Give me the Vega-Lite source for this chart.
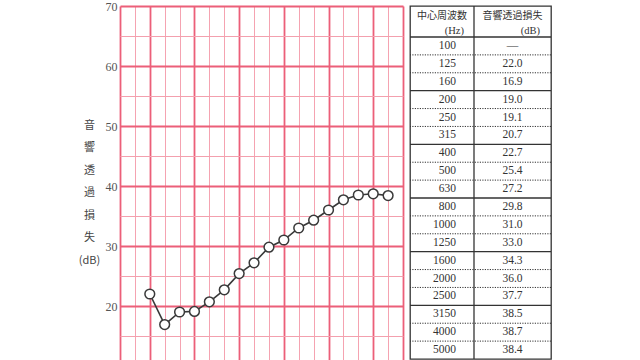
{
  "$schema": "https://vega.github.io/schema/vega-lite/v6.json",
  "background": "white",
  "padding": {"left": 78, "top": 0, "right": 5, "bottom": 0},
  "bounds": "flush",
  "spacing": 7,
  "config": {"view": {"stroke": null}},
  "datasets": {
    "bands": [
      {"freq": "100", "tl": null, "tl_label": "—"},
      {"freq": "125", "tl": 22.0, "tl_label": "22.0"},
      {"freq": "160", "tl": 16.9, "tl_label": "16.9"},
      {"freq": "200", "tl": 19.0, "tl_label": "19.0"},
      {"freq": "250", "tl": 19.1, "tl_label": "19.1"},
      {"freq": "315", "tl": 20.7, "tl_label": "20.7"},
      {"freq": "400", "tl": 22.7, "tl_label": "22.7"},
      {"freq": "500", "tl": 25.4, "tl_label": "25.4"},
      {"freq": "630", "tl": 27.2, "tl_label": "27.2"},
      {"freq": "800", "tl": 29.8, "tl_label": "29.8"},
      {"freq": "1000", "tl": 31.0, "tl_label": "31.0"},
      {"freq": "1250", "tl": 33.0, "tl_label": "33.0"},
      {"freq": "1600", "tl": 34.3, "tl_label": "34.3"},
      {"freq": "2000", "tl": 36.0, "tl_label": "36.0"},
      {"freq": "2500", "tl": 37.7, "tl_label": "37.7"},
      {"freq": "3150", "tl": 38.5, "tl_label": "38.5"},
      {"freq": "4000", "tl": 38.7, "tl_label": "38.7"},
      {"freq": "5000", "tl": 38.4, "tl_label": "38.4"}
    ],
    "head_hz": [
      {"line": "1", "text": "中心周波数"},
      {"line": "2", "text": "(Hz)"}
    ],
    "head_db": [
      {"line": "1", "text": "音響透過損失"},
      {"line": "2", "text": "(dB)"}
    ]
  },
  "hconcat": [
    {
      "width": 283,
      "height": 354,
      "data": {"name": "bands"},
      "encoding": {
        "x": {
          "field": "freq",
          "type": "ordinal",
          "scale": {
            "type": "point",
            "padding": 0,
            "domain": ["80", "100", "125", "160", "200", "250", "315", "400", "500", "630", "800", "1000", "1250", "1600", "2000", "2500", "3150", "4000", "5000", "6300"]
          },
          "axis": {
            "title": null,
            "labels": false,
            "ticks": false,
            "domain": false,
            "grid": true,
            "gridColor": {"condition": {"test": "indexof(['80','125','250','500','1000','2000','4000','6300'], datum.value) >= 0", "value": "#ec5f79"}, "value": "#f5a3b1"},
            "gridWidth": {"condition": {"test": "indexof(['80','125','250','500','1000','2000','4000','6300'], datum.value) >= 0", "value": 1.8}, "value": 1}
          }
        },
        "y": {
          "field": "tl",
          "type": "quantitative",
          "scale": {"domain": [11, 70], "nice": false, "zero": false},
          "axis": {
            "values": [15, 20, 25, 30, 35, 40, 45, 50, 55, 60, 65, 70],
            "labelExpr": "datum.value % 10 === 0 ? datum.label : ''",
            "ticks": false,
            "domain": false,
            "grid": true,
            "gridColor": {"condition": {"test": "datum.value % 10 === 0", "value": "#ec5f79"}, "value": "#f3a0ae"},
            "gridWidth": {"condition": {"test": "datum.value % 10 === 0", "value": 1.8}, "value": 1.1},
            "labelFont": "Liberation Serif",
            "labelFontSize": 12,
            "labelColor": "#555555",
            "labelPadding": 3,
            "title": ["音", "響", "透", "過", "損", "失", "(dB)"],
            "titleAngle": 0,
            "titleFont": "Noto Sans CJK JP",
            "titleFontSize": 11,
            "titleFontWeight": "normal",
            "titleColor": "#444444",
            "titleLineHeight": 22.5,
            "titleAlign": "center",
            "titleBaseline": "top",
            "titleX": -31,
            "titleY": 113
          }
        }
      },
      "layer": [
        {"mark": {"type": "line", "color": "#3a3a3a", "strokeWidth": 1.6}},
        {"mark": {"type": "point", "filled": true, "fill": "white", "stroke": "#3a3a3a", "strokeWidth": 1.5, "size": 95, "opacity": 1}}
      ]
    },
    {
      "width": 141,
      "height": 353,
      "view": {"stroke": "#333333", "strokeWidth": 1.3},
      "resolve": {"scale": {"x": "independent", "y": "independent"}},
      "layer": [
        {
          "data": {"name": "bands"},
          "mark": {"type": "rule", "color": "#333333"},
          "encoding": {
            "y": {"field": "freq", "type": "ordinal", "bandPosition": 0, "scale": {"type": "band", "domain": ["100", "125", "160", "200", "250", "315", "400", "500", "630", "800", "1000", "1250", "1600", "2000", "2500", "3150", "4000", "5000"], "range": [31, 353], "paddingInner": 0, "paddingOuter": 0}, "axis": null},
            "strokeDash": {"condition": {"test": "indexof(['100','200','400','800','1600','3150'], datum.freq) >= 0", "value": [1, 0]}, "value": [1.2, 1.3]},
            "strokeWidth": {"condition": {"test": "indexof(['100','200','400','800','1600','3150'], datum.freq) >= 0", "value": 1.3}, "value": 1}
          }
        },
        {
          "data": {"name": "head_db"},
          "transform": [{"filter": "datum.line === '1'"}],
          "mark": {"type": "rule", "color": "#333333", "strokeWidth": 1.3},
          "encoding": {
            "x": {"datum": "dB", "type": "nominal", "bandPosition": 0, "scale": {"type": "band", "domain": ["dB"], "range": [64, 141], "paddingInner": 0, "paddingOuter": 0}, "axis": null}
          }
        },
        {
          "resolve": {"scale": {"y": "independent"}},
          "layer": [
            {
              "data": {"name": "head_hz"},
              "encoding": {
                "y": {"field": "line", "type": "ordinal", "scale": {"type": "band", "domain": ["1", "2"], "range": [3, 32], "paddingInner": 0, "paddingOuter": 0}, "axis": null},
                "text": {"field": "text"}
              },
              "layer": [
                {
                  "transform": [{"filter": "datum.line === '1'"}],
                  "mark": {"type": "text", "font": "Noto Sans CJK JP", "fontSize": 10, "color": "#333333"},
                  "encoding": {"x": {"datum": "Hz", "type": "nominal", "scale": {"type": "band", "domain": ["Hz"], "range": [0, 64], "paddingInner": 0, "paddingOuter": 0}, "axis": null}}
                },
                {
                  "transform": [{"filter": "datum.line === '2'"}],
                  "mark": {"type": "text", "align": "right", "dx": -10, "font": "Liberation Serif", "fontSize": 10.5, "color": "#333333"},
                  "encoding": {"x": {"datum": "Hz", "type": "nominal", "bandPosition": 1, "scale": {"type": "band", "domain": ["Hz"], "range": [0, 64], "paddingInner": 0, "paddingOuter": 0}, "axis": null}}
                }
              ]
            },
            {
              "data": {"name": "bands"},
              "mark": {"type": "text", "align": "right", "dx": -18, "font": "Liberation Serif", "fontSize": 11.5, "color": "#333333"},
              "encoding": {
                "y": {"field": "freq", "type": "ordinal", "scale": {"type": "band", "domain": ["100", "125", "160", "200", "250", "315", "400", "500", "630", "800", "1000", "1250", "1600", "2000", "2500", "3150", "4000", "5000"], "range": [31, 353], "paddingInner": 0, "paddingOuter": 0}, "axis": null},
                "x": {"datum": "Hz", "type": "nominal", "bandPosition": 1, "scale": {"type": "band", "domain": ["Hz"], "range": [0, 64], "paddingInner": 0, "paddingOuter": 0}, "axis": null},
                "text": {"field": "freq"}
              }
            }
          ]
        },
        {
          "resolve": {"scale": {"y": "independent"}},
          "layer": [
            {
              "data": {"name": "head_db"},
              "encoding": {
                "y": {"field": "line", "type": "ordinal", "scale": {"type": "band", "domain": ["1", "2"], "range": [3, 32], "paddingInner": 0, "paddingOuter": 0}, "axis": null},
                "text": {"field": "text"}
              },
              "layer": [
                {
                  "transform": [{"filter": "datum.line === '1'"}],
                  "mark": {"type": "text", "font": "Noto Sans CJK JP", "fontSize": 10, "color": "#333333"},
                  "encoding": {"x": {"datum": "dB", "type": "nominal", "scale": {"type": "band", "domain": ["dB"], "range": [64, 141], "paddingInner": 0, "paddingOuter": 0}, "axis": null}}
                },
                {
                  "transform": [{"filter": "datum.line === '2'"}],
                  "mark": {"type": "text", "align": "right", "dx": -11, "font": "Liberation Serif", "fontSize": 10.5, "color": "#333333"},
                  "encoding": {"x": {"datum": "dB", "type": "nominal", "bandPosition": 1, "scale": {"type": "band", "domain": ["dB"], "range": [64, 141], "paddingInner": 0, "paddingOuter": 0}, "axis": null}}
                }
              ]
            },
            {
              "data": {"name": "bands"},
              "mark": {"type": "text", "font": "Liberation Serif", "fontSize": 11.5, "color": "#333333"},
              "encoding": {
                "y": {"field": "freq", "type": "ordinal", "scale": {"type": "band", "domain": ["100", "125", "160", "200", "250", "315", "400", "500", "630", "800", "1000", "1250", "1600", "2000", "2500", "3150", "4000", "5000"], "range": [31, 353], "paddingInner": 0, "paddingOuter": 0}, "axis": null},
                "x": {"datum": "dB", "type": "nominal", "scale": {"type": "band", "domain": ["dB"], "range": [64, 141], "paddingInner": 0, "paddingOuter": 0}, "axis": null},
                "text": {"field": "tl_label"}
              }
            }
          ]
        }
      ]
    }
  ]
}
